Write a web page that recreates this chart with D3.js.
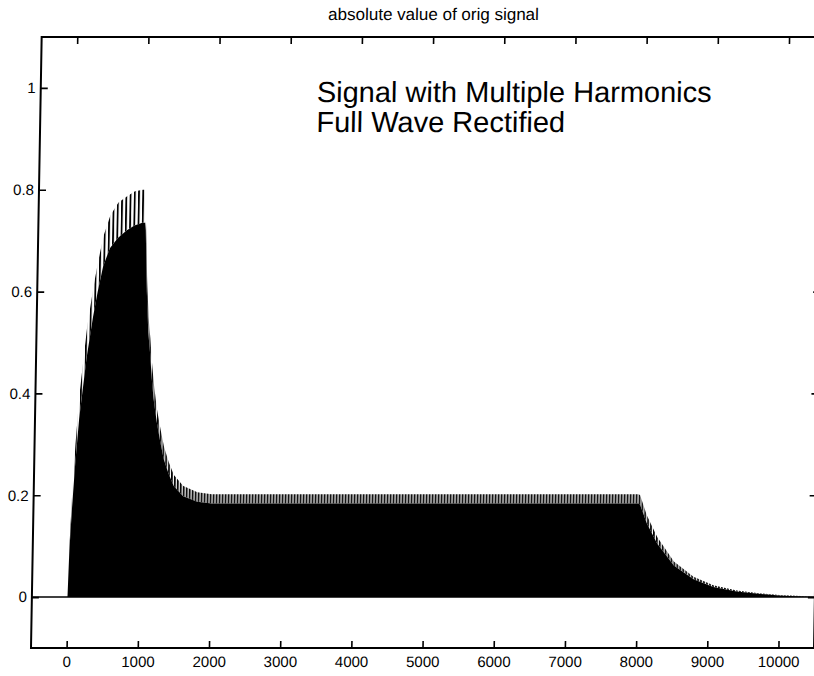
<!DOCTYPE html>
<html>
<head>
<meta charset="utf-8">
<script src="https://cdn.jsdelivr.net/npm/d3@7"></script>
<style>
body { margin: 0; background: #fff; }
svg text { font-family: "Liberation Sans", Arial, sans-serif; fill: #000; }
</style>
</head>
<body>
<script>
// envelope of the rectified signal
var sigX  = [-500, 0, 15, 40, 75, 120, 210, 290, 350, 420, 510, 620, 740, 850, 960, 1000,
             1010, 1040, 1070, 1100, 1130, 1160, 1210, 1265, 1320, 1390, 1465, 1600, 1800, 2000,
             8000, 8020, 8120, 8270, 8510, 8790, 9070, 9400, 9740, 10000, 10300, 10500];
var upper = [0, 0, 0.10, 0.20, 0.30, 0.40, 0.53, 0.61, 0.66, 0.71, 0.75, 0.775, 0.787, 0.797, 0.80, 0.80,
             0.74, 0.63, 0.55, 0.51, 0.46, 0.42, 0.37, 0.33, 0.295, 0.265, 0.24, 0.218, 0.206, 0.202,
             0.202, 0.20, 0.16, 0.118, 0.07, 0.04, 0.023, 0.013, 0.007, 0.004, 0.002, 0];
var lower = [0, 0, 0.09, 0.17, 0.26, 0.35, 0.47, 0.55, 0.60, 0.65, 0.685, 0.705, 0.72, 0.73, 0.735, 0.735,
             0.72, 0.60, 0.52, 0.48, 0.43, 0.39, 0.345, 0.305, 0.27, 0.242, 0.218, 0.198, 0.187, 0.184,
             0.184, 0.182, 0.145, 0.105, 0.062, 0.035, 0.02, 0.011, 0.006, 0.003, 0.001, 0];

var xTicks = [0, 1000, 2000, 3000, 4000, 5000, 6000, 7000, 8000, 9000, 10000];
var yTicks = [0, 0.2, 0.4, 0.6, 0.8, 1];
var titleText = 'absolute value of orig signal';
var noteLines = ['Signal with Multiple Harmonics', 'Full Wave Rectified'];
var noteX = 3380, noteY = 0.972;

var svgW = 814, svgH = 676;
var axL = 31, axR = 814, axT = 37, axB = 648;

var x = d3.scaleLinear().domain([-500, 10500]).range([axL, axR]);
var y = d3.scaleLinear().domain([-0.1, 1.1]).range([axB, axT]);

var svg = d3.select('body').append('svg')
  .attr('width', svgW)
  .attr('height', svgH);

var defs = svg.append('defs');
function stripes(id, w, bar) {
  var p = defs.append('pattern')
    .attr('id', id)
    .attr('patternUnits', 'userSpaceOnUse')
    .attr('width', w)
    .attr('height', 20);
  p.append('rect')
    .attr('width', bar)
    .attr('height', 20)
    .attr('fill', '#000');
}
stripes('stripeWide', 4.2, 1.8);
stripes('stripeNarrow', 3, 1.8);

// the scan is slightly sheared, left edge leans right going up
var g = svg.append('g')
  .attr('transform', 'translate(0,' + axB + ') skewX(-1) translate(0,' + (-axB) + ')');

var pts = sigX.map(function(d, i) { return {x: d, hi: upper[i], lo: lower[i]}; });

var solid = d3.area()
  .x(function(d) { return x(d.x); })
  .y0(y(0))
  .y1(function(d) { return y(d.lo); });

var band = d3.area()
  .x(function(d) { return x(d.x); })
  .y0(function(d) { return y(d.lo); })
  .y1(function(d) { return y(d.hi); });

g.append('path')
  .datum(pts)
  .attr('fill', '#000')
  .attr('d', solid);

g.append('path')
  .datum(pts.filter(function(d) { return d.x <= 1010; }))
  .attr('fill', 'url(#stripeWide)')
  .attr('d', band);

g.append('path')
  .datum(pts.filter(function(d) { return d.x >= 1010; }))
  .attr('fill', 'url(#stripeNarrow)')
  .attr('d', band);

g.append('line')
  .attr('x1', x(-500)).attr('x2', x(10500))
  .attr('y1', y(0)).attr('y2', y(0))
  .attr('stroke', '#000')
  .attr('stroke-width', 1.5);

function styleAxis(sel) {
  sel.select('.domain').remove();
  sel.selectAll('.tick line').attr('stroke', '#000').attr('stroke-width', 1.6);
  sel.attr('font-size', 15).attr('font-family', '"Liberation Sans", Arial, sans-serif');
}

g.append('g')
  .attr('transform', 'translate(0,' + axB + ')')
  .call(d3.axisBottom(x).tickValues(xTicks).tickSize(-7).tickPadding(8).tickFormat(d3.format('d')))
  .call(styleAxis);

g.append('g')
  .attr('transform', 'translate(0,' + axT + ')')
  .call(d3.axisTop(x).tickValues(xTicks).tickSize(-7).tickFormat(''))
  .call(styleAxis);

g.append('g')
  .attr('transform', 'translate(' + axL + ',0)')
  .call(d3.axisLeft(y).tickValues(yTicks).tickSize(-7).tickPadding(5).tickFormat(d3.format('~g')))
  .call(styleAxis);

g.append('g')
  .attr('transform', 'translate(' + axR + ',0)')
  .call(d3.axisRight(y).tickValues(yTicks).tickSize(-7).tickFormat(''))
  .call(styleAxis);

g.append('rect')
  .attr('x', axL)
  .attr('y', axT)
  .attr('width', axR - axL)
  .attr('height', axB - axT)
  .attr('fill', 'none')
  .attr('stroke', '#000')
  .attr('stroke-width', 2);

g.append('text')
  .attr('x', (axL + axR) / 2)
  .attr('y', 20)
  .attr('text-anchor', 'middle')
  .attr('font-size', 17)
  .text(titleText);

g.append('text')
  .attr('x', x(noteX))
  .attr('y', y(noteY))
  .attr('font-size', 29)
  .selectAll('tspan')
  .data(noteLines)
  .enter()
  .append('tspan')
  .attr('x', x(noteX))
  .attr('dy', function(d, i) { return i === 0 ? 0 : 30; })
  .text(function(d) { return d; });
</script>
</body>
</html>
